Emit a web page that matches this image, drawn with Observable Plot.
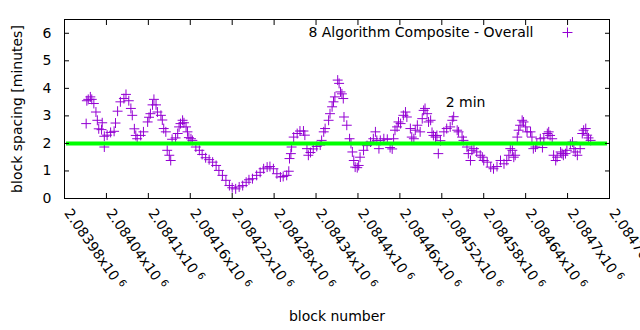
<!DOCTYPE html>
<html><head><meta charset="utf-8">
<script src="https://cdn.jsdelivr.net/npm/d3@7"></script>
<script src="https://cdn.jsdelivr.net/npm/@observablehq/plot@0.6"></script>
<style>body{margin:0;background:#fff} svg{display:block}</style>
</head><body><div id="chart"></div><script>
// [block number, block spacing in minutes]
const series = [
[2084011,2.72],[2084012,3.55],[2084014,3.60],[2084017,3.69],[2084019,3.60],[2084022,3.45],[2084025,3.14],[2084027,2.84],[2084029,2.53],[2084033,2.50],
[2084037,2.26],[2084041,2.30],[2084046,2.40],[2084051,2.44],[2084053,2.74],[2084056,3.17],[2084060,3.51],[2084065,3.63],[2084068,3.78],[2084072,3.55],
[2084075,3.27],[2084077,3.02],[2084080,2.53],[2084082,2.29],[2084084,2.17],[2084089,2.29],[2084093,2.42],[2084099,2.78],[2084101,2.95],[2084103,3.08],
[2084106,3.40],[2084108,3.60],[2084111,3.40],[2084113,3.14],[2084118,3.02],[2084120,2.85],[2084122,2.54],[2084125,2.42],[2084127,1.75],[2084130,1.57],
[2084132,1.38],[2084134,2.15],[2084139,2.20],[2084142,2.36],[2084144,2.60],[2084146,2.72],[2084149,2.84],[2084151,2.75],[2084154,2.60],[2084156,2.42],
[2084158,2.21],[2084161,2.17],[2084163,2.11],[2084168,1.87],[2084173,1.75],[2084177,1.60],[2084182,1.48],[2084187,1.41],[2084192,1.32],[2084197,1.20],
[2084201,1.02],[2084206,0.84],[2084211,0.66],[2084216,0.47],[2084220,0.39],[2084225,0.35],[2084230,0.42],[2084235,0.47],[2084240,0.59],[2084244,0.68],
[2084249,0.72],[2084255,0.84],[2084260,0.95],[2084265,1.08],[2084270,1.14],[2084274,1.16],[2084279,1.08],[2084284,0.90],[2084289,0.78],[2084293,0.80],
[2084298,0.84],[2084301,0.99],[2084302,1.45],[2084304,1.63],[2084305,1.87],[2084308,2.23],[2084313,2.36],[2084317,2.45],[2084322,2.45],[2084324,2.30],
[2084327,1.81],[2084329,1.57],[2084332,1.67],[2084336,1.80],[2084341,1.89],[2084346,1.94],[2084348,2.11],[2084351,2.42],[2084353,2.54],[2084358,2.84],
[2084360,3.08],[2084363,3.33],[2084365,3.51],[2084367,3.69],[2084371,4.30],[2084373,4.18],[2084375,3.87],[2084377,3.80],[2084379,3.63],[2084380,2.96],
[2084384,2.66],[2084388,2.17],[2084390,2.00],[2084392,1.69],[2084394,1.38],[2084396,1.14],[2084399,1.12],[2084401,1.20],[2084403,1.50],[2084408,1.75],
[2084413,1.92],[2084418,2.05],[2084422,2.17],[2084425,2.42],[2084427,2.11],[2084430,1.81],[2084432,2.11],[2084437,2.17],[2084442,2.15],[2084446,1.85],
[2084449,1.80],[2084451,2.17],[2084453,2.48],[2084456,2.60],[2084458,2.78],[2084461,2.72],[2084465,3.02],[2084468,3.14],[2084470,2.96],[2084475,2.54],
[2084477,2.23],[2084480,2.17],[2084482,2.48],[2084485,2.66],[2084489,2.42],[2084492,2.90],[2084494,3.20],[2084496,3.27],[2084499,3.08],[2084501,2.78],
[2084504,2.84],[2084506,2.40],[2084508,2.29],[2084511,2.23],[2084513,2.29],[2084518,2.10],[2084523,2.42],[2084527,2.54],[2084532,2.60],[2084535,2.84],
[2084537,2.97],[2084542,2.48],[2084544,2.42],[2084549,2.23],[2084551,2.11],[2084556,1.87],[2084558,1.63],[2084561,1.38],[2084563,1.75],[2084566,1.81],
[2084570,1.69],[2084575,1.57],[2084578,1.50],[2084580,1.38],[2084585,1.32],[2084590,1.14],[2084594,1.08],[2084599,1.16],[2084604,1.38],[2084609,1.26],
[2084613,1.38],[2084616,1.57],[2084618,1.81],[2084621,1.75],[2084623,1.50],[2084625,1.57],[2084628,2.23],[2084630,2.48],[2084632,2.66],[2084635,2.84],
[2084637,2.78],[2084640,2.60],[2084642,2.42],[2084647,2.42],[2084649,2.23],[2084651,1.81],[2084654,1.87],[2084656,2.00],[2084661,2.17],[2084666,2.20],
[2084671,2.36],[2084673,2.42],[2084675,2.29],[2084678,2.17],[2084680,1.57],[2084683,1.38],[2084685,1.50],[2084690,1.69],[2084692,1.63],[2084694,1.57],
[2084697,1.63],[2084699,1.75],[2084704,1.97],[2084707,2.05],[2084709,1.81],[2084711,1.69],[2084714,1.57],[2084718,1.81],[2084721,2.36],[2084723,2.48],
[2084726,2.54],[2084728,2.30],[2084730,2.20],[2084733,2.11]
];
const strays = [[2084034,2.75],[2084037,1.87],[2084515,1.63],[2084664,1.85]];

const referenceMinutes = [2];
const yTicks = [0, 1, 2, 3, 4, 5, 6];
const xTickBlocks = [2083980,2084040,2084100,2084160,2084220,2084280,2084340,2084400,2084460,2084520,2084580,2084640,2084700,2084760];
const xTickMantissa = ["2.08398","2.08404","2.0841","2.08416","2.08422","2.08428","2.08434","2.0844","2.08446","2.08452","2.08458","2.08464","2.0847","2.08476"];
const xTickExponent = "6";
const legendLabel = "8 Algorithm Composite - Overall";
const annotation = [{text: "2 min", block: 2084554, minutes: 3.5}];
const xLabel = "block number";
const yLabel = "block spacing [minutes]";

const purple = "#9400d3";
const fmtX = d => xTickMantissa[xTickBlocks.indexOf(d)] + "x10^" + xTickExponent;

const chart = Plot.plot({
  width: 640, height: 330,
  marginLeft: 64, marginRight: 31, marginTop: 19, marginBottom: 132,
  style: {fontFamily: "'DejaVu Sans', sans-serif", fontSize: "14px", background: "#fff", color: "#000", overflow: "hidden"},
  x: {domain: [2083980, 2084760]},
  y: {domain: [0, 6.5]},
  marks: [
    Plot.dot(series, {x: d => d[0], y: d => d[1], symbol: "plus", r: 3.3, stroke: purple, strokeWidth: 1}),
    Plot.dot(strays, {x: d => d[0], y: d => d[1], symbol: "plus", r: 3.3, stroke: purple, strokeWidth: 1}),
    Plot.ruleY(referenceMinutes, {stroke: "#00ff00", strokeWidth: 4, insetLeft: 2, insetRight: 2}),
    Plot.frame({stroke: "#000"}),
    Plot.axisY({anchor: "left", ticks: yTicks, tickSize: 0, tickPadding: 13, tickFormat: d => String(d), label: null}),
    Plot.axisY({anchor: "left", ticks: yTicks, tickSize: 5, dx: 5, fill: "none", label: null}),
    Plot.axisY({anchor: "right", ticks: yTicks, tickSize: 5, dx: -5, fill: "none", label: null}),
    Plot.axisX({anchor: "bottom", ticks: xTickBlocks, tickSize: 0, tickPadding: 12, tickRotate: 55, tickFormat: fmtX, label: null, dx: 3}),
    Plot.axisX({anchor: "bottom", ticks: xTickBlocks, tickSize: 5, dy: -5, fill: "none", label: null}),
    Plot.axisX({anchor: "top", ticks: xTickBlocks, tickSize: 5, dy: 5, fill: "none", label: null}),
    Plot.text([yLabel], {frameAnchor: "left", dx: -47, rotate: -90, textAnchor: "middle", lineAnchor: "middle", fill: "#000"}),
    Plot.text([xLabel], {frameAnchor: "bottom", dy: 118, textAnchor: "middle", lineAnchor: "middle", fill: "#000"}),
    Plot.text([legendLabel], {frameAnchor: "top-right", dx: -76, dy: 13, textAnchor: "end", lineAnchor: "middle", fill: "#000"}),
    Plot.dot([legendLabel], {x: null, y: null, frameAnchor: "top-right", dx: -42, dy: 13, symbol: "plus", r: 3.3, stroke: purple, strokeWidth: 1}),
    Plot.text(annotation, {x: "block", y: "minutes", text: "text", fill: "#000"})
  ]
});

d3.select(chart).selectAll('g[aria-label="x-axis tick label"] text').each(function() {
  const parts = this.textContent.split("^");
  if (parts.length < 2) return;
  const sel = d3.select(this);
  sel.text(parts[0]);
  sel.append("tspan").attr("dx", 4).attr("dy", "-0.45em").attr("font-size", "10px").text(parts[1]);
});

document.getElementById("chart").appendChild(chart);
</script></body></html>
